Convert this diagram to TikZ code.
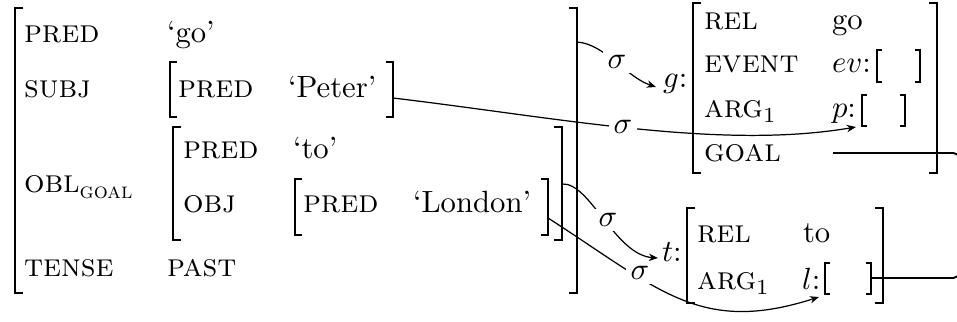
\documentclass[tikz,border=0pt]{standalone}
\usetikzlibrary{arrows.meta}
\newcommand\avmattr[1]{{\fontsize{10.5}{12.6}\selectfont\textsc{#1}}}
\newcommand\avmsub[1]{\raisebox{-0.45ex}{\fontsize{7.2}{9}\selectfont\textsc{#1}}}
\begin{document}
\begin{tikzpicture}[x=0.3257pt,y=-0.3257pt,
  lbl/.style={anchor=base west,inner sep=0pt,outer sep=0pt},
  bigbr/.style={line width=0.9pt},
  smbr/.style={line width=0.45pt},
  conn/.style={line width=0.4pt},
  arr/.style={conn,-{Stealth[length=3pt,width=2.4pt]}},
  sig/.style={fill=white,inner sep=1.5pt}]
\useasboundingbox (0,0) rectangle (957,322);
% ---- main f-structure brackets
\draw[bigbr] (23,8) -- (15,8) -- (15,293) -- (23,293);
\draw[bigbr] (569,8) -- (577,8) -- (577,293) -- (569,293);
\draw[smbr] (177,62) -- (170,62) -- (170,117) -- (177,117);
\draw[smbr] (386,62) -- (393,62) -- (393,117) -- (386,117);
\draw[bigbr] (181,127) -- (173,127) -- (173,240) -- (181,240);
\draw[bigbr] (554,127) -- (562,127) -- (562,240) -- (554,240);
\draw[smbr] (302,179) -- (295,179) -- (295,235) -- (302,235);
\draw[smbr] (541,179) -- (548,179) -- (548,235) -- (541,235);
% ---- g structure
\draw[bigbr] (701,3) -- (693,3) -- (693,173) -- (701,173);
\draw[bigbr] (929,3) -- (937,3) -- (937,173) -- (929,173);
% ---- t structure
\draw[bigbr] (695,208) -- (687,208) -- (687,303) -- (695,303);
\draw[bigbr] (875,208) -- (883,208) -- (883,303) -- (875,303);
% ---- small empty structures
\draw[smbr] (882,50) -- (877,50) -- (877,82) -- (882,82);
\draw[smbr] (915,50) -- (920,50) -- (920,82) -- (915,82);
\draw[smbr] (867,95) -- (862,95) -- (862,126) -- (867,126);
\draw[smbr] (900,95) -- (905,95) -- (905,126) -- (900,126);
\draw[smbr] (830,263) -- (825,263) -- (825,294) -- (830,294);
\draw[smbr] (866,263) -- (871,263) -- (871,294) -- (866,294);
% ---- main texts
\node[lbl] (a1) at (24,43) {\avmattr{pred}};
\node[lbl] (v1) at (167,43) {`go'};
\node[lbl] (a2) at (24,98) {\avmattr{subj}};
\node[lbl] (a21) at (178,98) {\avmattr{pred}};
\node[lbl] (v21) at (288,98) {`Peter'};
\node[lbl] (a3) at (24,193) {\avmattr{obl}\avmsub{goal}};
\node[lbl] (a31) at (183,159) {\avmattr{pred}};
\node[lbl] (v31) at (293,159) {`to'};
\node[lbl] (a32) at (183,213) {\avmattr{obj}};
\node[lbl] (a321) at (303,213) {\avmattr{pred}};
\node[lbl] (v321) at (413,213) {`London'};
\node[lbl] (a4) at (24,277) {\avmattr{tense}};
\node[lbl] (v4) at (167,277) {\avmattr{past}};
% ---- g texts
\node[lbl] (gl) at (663,88) {$g$:};
\node[lbl] (g1) at (704,30) {\avmattr{rel}};
\node[lbl] (gv1) at (832,30) {go};
\node[lbl] (g2) at (704,73) {\avmattr{event}};
\node[lbl] (gv2) at (832,73) {$ev$:};
\node[lbl] (g3) at (704,118) {\avmattr{arg}$_1$};
\node[lbl] (gv3) at (832,118) {$p$:};
\node[lbl] (g4) at (704,162) {\avmattr{goal}};
% ---- t texts
\node[lbl] (tl) at (662,262) {$t$:};
\node[lbl] (t1) at (697,243) {\avmattr{rel}};
\node[lbl] (tv1) at (803,243) {to};
\node[lbl] (t2) at (697,290) {\avmattr{arg}$_1$};
\node[lbl] (tv2) at (802,290) {$l$:};
% ---- connector end points
\coordinate (fs) at (577,42);
\coordinate (gin) at (656,87);
\coordinate (subjR) at (393,98);
\coordinate (pin) at (856,127);
\coordinate (oblR) at (562,184);
\coordinate (tin) at (658,258);
\coordinate (objR) at (548,218);
\coordinate (lin) at (819,297);
\coordinate (goalv) at (833,153);
\coordinate (lR) at (871,278);
% ---- connectors
\draw[arr] (fs) .. controls +(28,2) and +(-30,-10) .. (gin);
\draw[arr] (subjR) .. controls +(167,20) and +(-136,23) .. (pin);
\draw[arr] (oblR) .. controls +(28,-2) and +(-43,-3) .. (tin);
\draw[arr] (objR) .. controls +(112,72) and +(-119,38) .. (lin);
\draw[line width=0.6pt, rounded corners=1.8pt] (goalv) -- (959,153) -- (959,278) -- (lR);
% ---- sigma labels
\node[sig] (s1) at (617,62) {$\sigma$};
\node[sig] (s2) at (623,127) {$\sigma$};
\node[sig] (s3) at (608,220) {$\sigma$};
\node[sig] (s4) at (640,273) {$\sigma$};
\end{tikzpicture}
\end{document}
